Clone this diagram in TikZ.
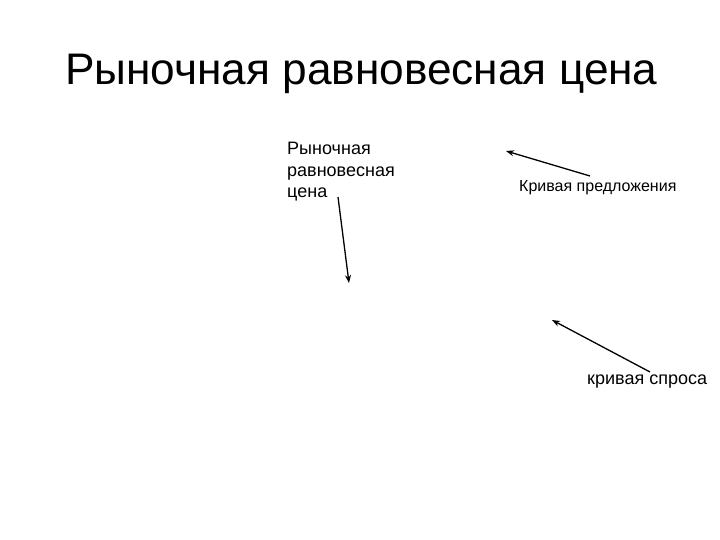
\documentclass[tikz,border=0pt]{standalone}
\usepackage{fontspec}
\setmainfont{Liberation Sans}
\usetikzlibrary{arrows.meta}
\begin{document}
\begin{tikzpicture}[x=1pt,y=-1pt,
  lbl/.style={inner sep=0pt, align=left, text=black},
  arr/.style={draw=black, line width=1.3pt, -{Stealth[length=8pt,width=6pt]}}]
\useasboundingbox (0,0) rectangle (720,540);
\node[lbl, anchor=base west, font=\fontsize{44.2}{52}\selectfont] (title) at (65,85) {Рыночная равновесная цена};
\node[lbl, anchor=north west, font=\fontsize{18}{21.5}\selectfont] (eq) at (287,142) {Рыночная\\равновесная\\цена};
\node[lbl, anchor=west, font=\fontsize{16}{19}\selectfont] (supply) at (519,188) {Кривая предложения};
\node[lbl, anchor=west, font=\fontsize{18}{21}\selectfont] (demand) at (587,382) {кривая спроса};
\coordinate (eqs) at (338,197);
\coordinate (eqe) at (349,283);
\coordinate (sus) at (590,176);
\coordinate (sue) at (506,151);
\coordinate (des) at (650,372);
\coordinate (dee) at (552,320);
\draw[arr] (eqs) -- (eqe);
\draw[arr] (sus) -- (sue);
\draw[arr] (des) -- (dee);
\end{tikzpicture}
\end{document}
